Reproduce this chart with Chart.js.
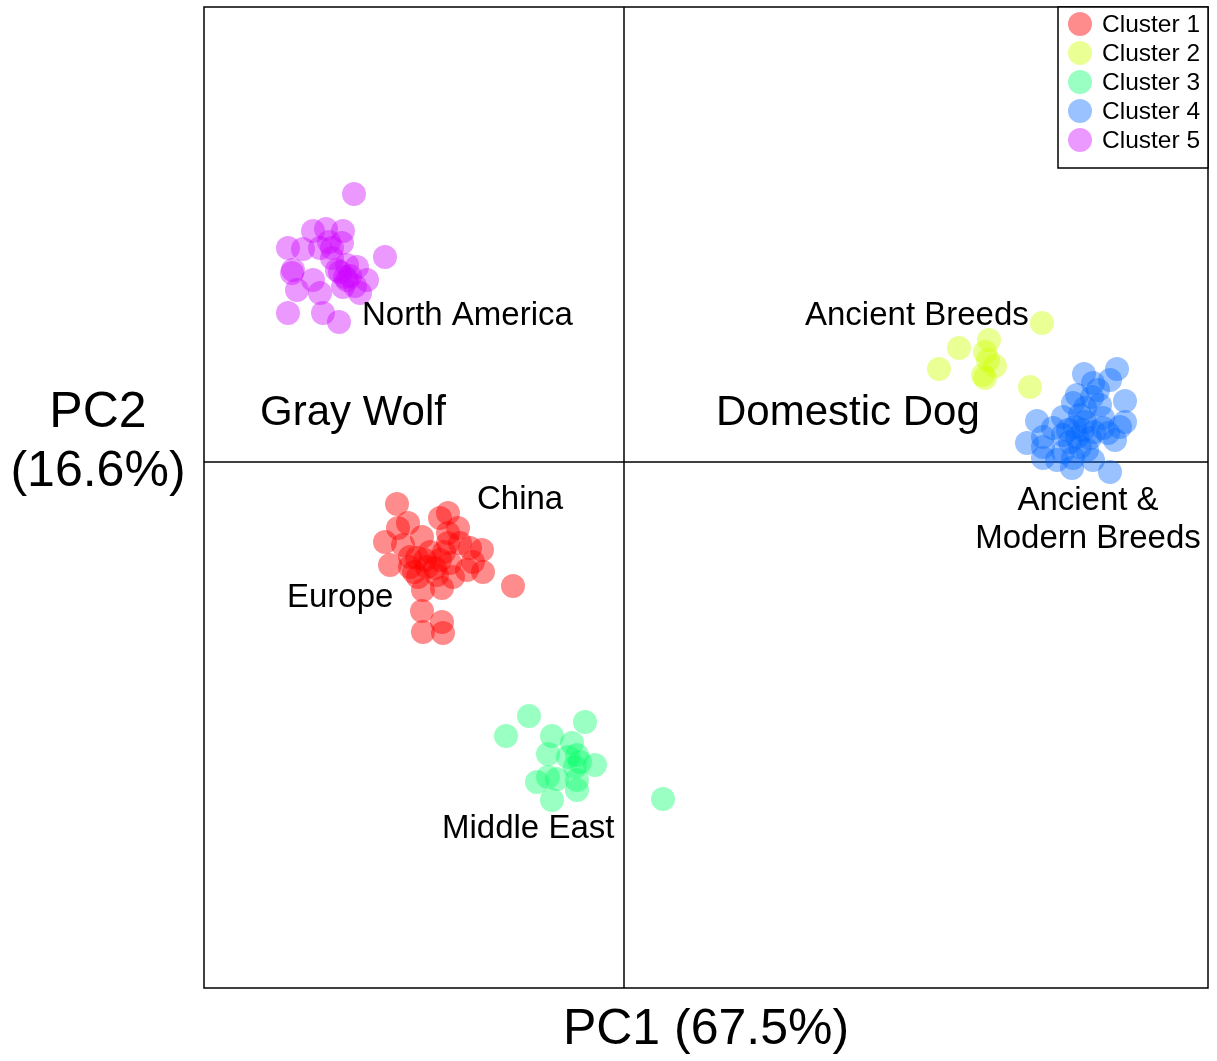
<!DOCTYPE html>
<html>
<head>
<meta charset="utf-8">
<script src="https://cdn.jsdelivr.net/npm/chart.js@4/dist/chart.umd.min.js"></script>
<style>
  html, body { margin: 0; padding: 0; background: #ffffff; }
  #wrap { width: 1217px; height: 1061px; position: relative; }
</style>
</head>
<body>
<div id="wrap"><canvas id="pca" width="1217" height="1061"></canvas></div>
<script>
// PCA scores (PC1, PC2) for each cluster
const cluster1 = [
  [-2.27,-0.42],[-1.76,-0.51],[-1.84,-0.56],[-2.26,-0.66],[-2.16,-0.61],[-1.66,-0.66],
  [-2.39,-0.80],[-2.02,-0.75],[-1.76,-0.71],[-1.76,-0.81],[-1.64,-0.81],[-1.42,-0.88],
  [-1.54,-0.86],[-2.21,-0.83],[-2.07,-0.96],[-1.94,-0.90],[-1.84,-0.98],[-2.34,-1.03],
  [-2.14,-1.05],[-1.97,-1.05],[-1.74,-1.01],[-1.57,-1.08],[-1.41,-1.10],[-2.06,-1.15],
  [-1.87,-1.13],[-1.71,-1.15],[-2.01,-1.28],[-1.82,-1.26],[-1.11,-1.24],[-2.02,-1.49],
  [-1.82,-1.60],[-2.01,-1.70],[-1.81,-1.71],[-2.14,-0.95],[-1.51,-1.00],
  [-1.99,-0.98],[-1.89,-1.06],[-2.10,-1.10],[-1.80,-0.90]
];
const cluster2 = [
  [4.18,1.39],[3.35,1.14],[3.65,1.22],[3.61,1.10],[3.64,1.02],
  [3.71,0.96],[3.15,0.93],[3.61,0.84],[4.06,0.75],[3.59,0.87]
];
const cluster3 = [
  [-0.95,-2.54],[-1.18,-2.74],[-0.39,-2.60],[-0.72,-2.74],[-0.52,-2.81],[-0.76,-2.92],
  [-0.56,-2.95],[-0.47,-2.93],[-0.44,-3.00],[-0.29,-3.03],[-0.49,-3.05],[-0.87,-3.20],
  [-0.76,-3.15],[-0.67,-3.17],[-0.47,-3.18],[-0.47,-3.28],[-0.72,-3.38],[0.39,-3.37]
];
const cluster4 = [
  [4.93,0.93],[4.60,0.88],[4.86,0.82],[4.69,0.79],[4.74,0.72],[4.53,0.67],[4.68,0.65],
  [5.01,0.61],[4.49,0.59],[4.61,0.54],[4.76,0.57],[4.13,0.41],[4.39,0.45],[4.56,0.47],
  [4.79,0.44],[5.01,0.40],[4.29,0.34],[4.44,0.32],[4.59,0.32],[4.79,0.34],[4.19,0.25],
  [4.39,0.27],[4.53,0.25],[4.66,0.24],[4.84,0.29],[4.96,0.35],[4.03,0.19],[4.19,0.15],
  [4.56,0.15],[4.91,0.22],[4.39,0.10],[4.63,0.12],[4.19,0.04],[4.49,0.04],[4.69,0.02],
  [4.48,-0.06],[4.86,-0.10],[4.33,0.02],
  [4.51,0.35],[4.61,0.40],[4.46,0.20],[4.70,0.30]
];
const cluster5 = [
  [-2.70,2.68],[-3.11,2.31],[-2.98,2.33],[-2.81,2.31],[-3.36,2.14],[-3.21,2.13],
  [-3.04,2.14],[-2.92,2.14],[-2.82,2.19],[-2.39,2.05],[-3.31,1.92],[-3.32,1.89],
  [-3.11,1.82],[-2.87,1.92],[-2.77,1.97],[-2.67,1.95],[-2.57,1.82],[-2.77,1.82],
  [-3.27,1.72],[-3.04,1.69],[-2.81,1.75],[-2.64,1.69],[-3.01,1.49],[-3.36,1.49],
  [-2.85,1.40],[-2.84,1.90],[-2.74,1.86],[-2.92,2.04],[-2.69,1.76],
  [-2.79,1.85],[-2.95,2.20]
];

const clusterNames = ['Cluster 1', 'Cluster 2', 'Cluster 3', 'Cluster 4', 'Cluster 5'];
const clusterColors = [
  'rgba(255,0,0,0.45)', 'rgba(204,255,0,0.42)', 'rgba(0,255,102,0.40)',
  'rgba(0,102,255,0.40)', 'rgba(204,0,255,0.40)'
];
const axisTitleX = 'PC1 (67.5%)';
const axisTitleY = ['PC2', '(16.6%)'];

// Region labels placed in PC coordinates
const regionLabels = [
  { text: 'North America', x: -2.62, y: 1.46, size: 33, align: 'left' },
  { text: 'Gray Wolf', x: -3.64, y: 0.49, size: 42, align: 'left' },
  { text: 'Domestic Dog', x: 0.92, y: 0.49, size: 42, align: 'left' },
  { text: 'Ancient Breeds', x: 1.81, y: 1.46, size: 33, align: 'left' },
  { text: 'China', x: -1.47, y: -0.38, size: 33, align: 'left' },
  { text: 'Europe', x: -3.37, y: -1.36, size: 33, align: 'left' },
  { text: 'Middle East', x: -1.82, y: -3.67, size: 33, align: 'left' },
  { text: 'Ancient &', x: 4.64, y: -0.39, size: 33, align: 'center' },
  { text: 'Modern Breeds', x: 4.64, y: -0.77, size: 33, align: 'center' }
];

const FONT = '"Liberation Sans", Arial, sans-serif';
const allClusters = [cluster1, cluster2, cluster3, cluster4, cluster5];

const datasets = allClusters.map((pts, i) => ({
  label: clusterNames[i],
  data: pts.map(p => ({ x: p[0], y: p[1] })),
  backgroundColor: clusterColors[i],
  borderWidth: 0,
  pointRadius: 12,
  pointHoverRadius: 12
}));

const decorations = {
  id: 'decorations',
  beforeDatasetsDraw(chart) {
    const { ctx, chartArea: a, scales } = chart;
    const x0 = scales.x.getPixelForValue(0);
    const y0 = scales.y.getPixelForValue(0);
    ctx.save();
    ctx.strokeStyle = '#000';
    ctx.lineWidth = 1.5;
    ctx.beginPath();
    ctx.moveTo(x0, a.top); ctx.lineTo(x0, a.bottom);
    ctx.moveTo(a.left, y0); ctx.lineTo(a.right, y0);
    ctx.stroke();
    ctx.restore();
  },
  afterDatasetsDraw(chart) {
    const { ctx, chartArea: a, scales } = chart;
    ctx.save();
    // plot frame
    ctx.strokeStyle = '#000';
    ctx.lineWidth = 1.5;
    ctx.strokeRect(a.left, a.top, a.right - a.left, a.bottom - a.top);

    // region labels
    ctx.fillStyle = '#000';
    ctx.textBaseline = 'middle';
    regionLabels.forEach(l => {
      ctx.font = l.size + 'px ' + FONT;
      ctx.textAlign = l.align;
      ctx.fillText(l.text, scales.x.getPixelForValue(l.x), scales.y.getPixelForValue(l.y));
    });

    // axis titles
    ctx.font = '50px ' + FONT;
    ctx.textAlign = 'center';
    ctx.fillText(axisTitleX, (a.left + a.right) / 2, 1030);
    ctx.fillText(axisTitleY[0], 98, 413);
    ctx.fillText(axisTitleY[1], 98, 472);

    // legend box in the top-right corner
    const lw = 150, lh = 161;
    const lx = a.right - lw, ly = a.top;
    ctx.fillStyle = '#fff';
    ctx.fillRect(lx, ly, lw, lh);
    ctx.strokeStyle = '#000';
    ctx.lineWidth = 1.5;
    ctx.strokeRect(lx, ly, lw, lh);
    ctx.font = '24.5px ' + FONT;
    ctx.textAlign = 'left';
    chart.data.datasets.forEach((ds, i) => {
      const cy = ly + 17 + i * 29;
      ctx.fillStyle = ds.backgroundColor;
      ctx.beginPath();
      ctx.arc(lx + 22, cy, 12, 0, Math.PI * 2);
      ctx.fill();
      ctx.fillStyle = '#000';
      ctx.fillText(ds.label, lx + 44, cy + 1);
    });
    ctx.restore();
  }
};

new Chart(document.getElementById('pca'), {
  type: 'scatter',
  data: { datasets },
  options: {
    responsive: false,
    animation: false,
    layout: { autoPadding: false, padding: { left: 204, right: 9, top: 7, bottom: 73 } },
    plugins: { legend: { display: false }, tooltip: { enabled: false } },
    scales: {
      x: { type: 'linear', min: -4.20, max: 5.84, display: false },
      y: { type: 'linear', min: -5.26, max: 4.55, display: false }
    }
  },
  plugins: [decorations]
});
</script>
</body>
</html>
